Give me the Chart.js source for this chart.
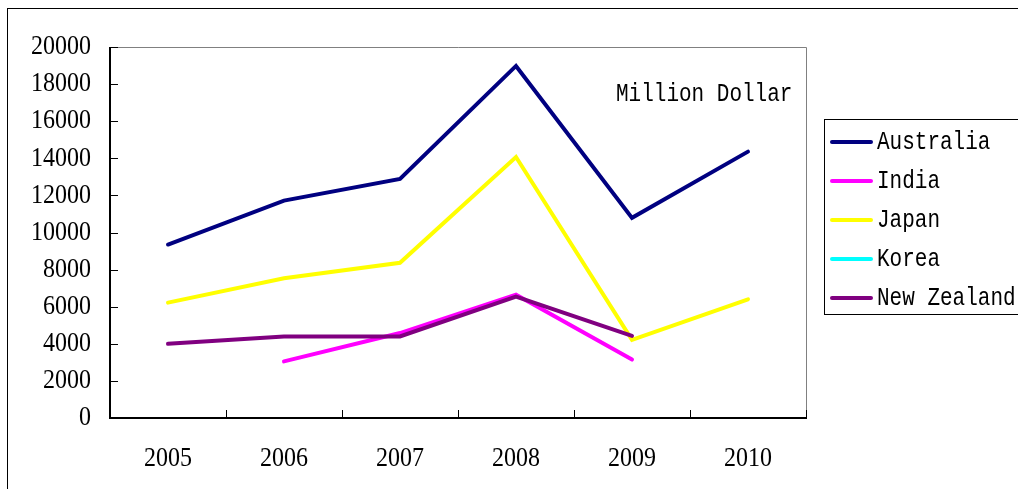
<!DOCTYPE html>
<html>
<head>
<meta charset="utf-8">
<script src="https://cdn.jsdelivr.net/npm/chart.js@4/dist/chart.umd.min.js"></script>
<style>
  html, body { margin: 0; padding: 0; background: #fff; }
  #wrap { width: 1018px; height: 489px; }
</style>
</head>
<body>
<div id="wrap"><canvas id="chart" width="1018" height="489"></canvas></div>
<script>
// categories and series (Million Dollar)
const years = ["2005", "2006", "2007", "2008", "2009", "2010"];
const australia = [9350, 11720, 12890, 18980, 10790, 14360];
const india = [null, 3050, 4580, 6650, 3150, null];
const japan = [6220, 7530, 8370, 14070, 4210, 6400];
const korea = [null, null, null, null, null, null];
const newZealand = [4000, 4400, 4400, 6550, 4430, null];

const yMin = 0;
const yMax = 20000;
const yStep = 2000;
const unitLabel = "Million Dollar";

const seriesNames = ["Australia", "India", "Japan", "Korea", "New Zealand"];
const seriesColors = ["#000080", "#FF00FF", "#FFFF00", "#00FFFF", "#800080"];
const seriesData = [australia, india, japan, korea, newZealand];

const tickFont = '24px "Liberation Serif", serif';
const legendFont = '21px "Liberation Mono", monospace';

// draw text squeezed like the original CJK font
function stretchedText(ctx, text, x, y, align, sy) {
  ctx.save();
  ctx.translate(x, y);
  ctx.scale(1, sy);
  ctx.textAlign = align;
  ctx.textBaseline = "middle";
  ctx.fillText(text, 0, 0);
  ctx.restore();
}

const framePlugin = {
  id: "frame",
  beforeDatasetsDraw(chart) {
    const ctx = chart.ctx;
    const a = chart.chartArea;
    const xs = chart.scales.x;
    const ys = chart.scales.y;
    ctx.save();
    ctx.lineWidth = 1;

    // outer chart border
    ctx.strokeStyle = "#000";
    ctx.strokeRect(7.5, 8.5, 1030, 500);

    // plot area: grey top/right, black left/bottom
    ctx.strokeStyle = "#808080";
    ctx.beginPath();
    ctx.moveTo(a.left, a.top + 0.5);
    ctx.lineTo(a.right + 0.5, a.top + 0.5);
    ctx.lineTo(a.right + 0.5, a.bottom);
    ctx.stroke();

    ctx.strokeStyle = "#000";
    ctx.lineWidth = 2;
    ctx.beginPath();
    ctx.moveTo(a.left, a.top);
    ctx.lineTo(a.left, a.bottom);
    ctx.lineTo(a.right + 1, a.bottom);
    ctx.stroke();

    // y ticks, inward
    ctx.lineWidth = 1;
    ys.ticks.forEach(t => {
      const py = Math.round(ys.getPixelForValue(t.value)) + 0.5;
      ctx.beginPath();
      ctx.moveTo(a.left, py);
      ctx.lineTo(a.left + 8, py);
      ctx.stroke();
    });

    // x ticks between categories, inward
    const half = (xs.getPixelForTick(1) - xs.getPixelForTick(0)) / 2;
    for (let i = 0; i <= years.length; i++) {
      const px = Math.round(xs.getPixelForTick(0) - half + i * half * 2) + 0.5;
      ctx.beginPath();
      ctx.moveTo(px, a.bottom);
      ctx.lineTo(px, a.bottom - 8);
      ctx.stroke();
    }

    // tick labels
    ctx.fillStyle = "#000";
    ctx.font = tickFont;
    ys.ticks.forEach(t => {
      stretchedText(ctx, String(t.value), a.left - 19, ys.getPixelForValue(t.value), "right", 1.15);
    });
    years.forEach((y, i) => {
      stretchedText(ctx, y, xs.getPixelForTick(i), 459, "center", 1.15);
    });
    ctx.restore();
  },
  afterDraw(chart) {
    const ctx = chart.ctx;
    ctx.save();
    ctx.fillStyle = "#000";
    ctx.font = legendFont;
    stretchedText(ctx, unitLabel, 616, 94, "left", 1.2);

    // legend box
    ctx.strokeStyle = "#000";
    ctx.lineWidth = 1;
    ctx.strokeRect(824.5, 119.5, 300, 195);
    seriesNames.forEach((name, i) => {
      const cy = 142 + i * 39;
      ctx.strokeStyle = seriesColors[i];
      ctx.lineWidth = 4;
      ctx.lineCap = "round";
      ctx.beginPath();
      ctx.moveTo(832, cy);
      ctx.lineTo(871, cy);
      ctx.stroke();
      ctx.fillStyle = "#000";
      stretchedText(ctx, name, 877, cy, "left", 1.2);
    });
    ctx.restore();
  }
};

new Chart(document.getElementById("chart"), {
  type: "line",
  data: {
    labels: years,
    datasets: seriesNames.map((name, i) => ({
      label: name,
      data: seriesData[i],
      borderColor: seriesColors[i],
      backgroundColor: seriesColors[i],
      borderWidth: 4,
      pointRadius: 0,
      pointHoverRadius: 0,
      fill: false,
      tension: 0,
      spanGaps: false,
      borderCapStyle: "round",
      borderJoinStyle: "miter",
      order: seriesNames.length - i
    }))
  },
  options: {
    responsive: false,
    animation: false,
    devicePixelRatio: 1,
    layout: { padding: { left: 0, top: 47, right: 212, bottom: 0 } },
    plugins: {
      legend: { display: false },
      tooltip: { enabled: false }
    },
    scales: {
      x: {
        type: "category",
        offset: true,
        grid: { display: false },
        border: { display: false },
        ticks: { display: false },
        afterFit: s => { s.height = 71; }
      },
      y: {
        min: yMin,
        max: yMax,
        grid: { display: false },
        border: { display: false },
        ticks: { display: false, stepSize: yStep },
        afterFit: s => { s.width = 110; }
      }
    }
  },
  plugins: [framePlugin]
});
</script>
</body>
</html>
